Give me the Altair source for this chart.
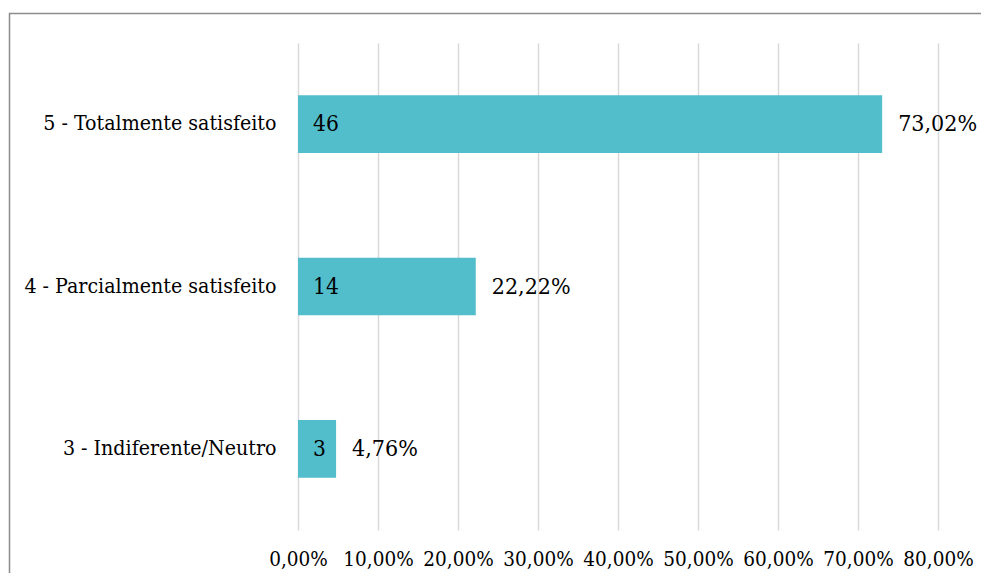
import altair as alt
import pandas as pd

categories = ["5 - Totalmente satisfeito", "4 - Parcialmente satisfeito", "3 - Indiferente/Neutro"]
counts = [46, 14, 3]
percents = [0.7302, 0.2222, 0.0476]
x_ticks = [0, 0.1, 0.2, 0.3, 0.4, 0.5, 0.6, 0.7, 0.8]

df = pd.DataFrame({"cat": categories, "n": counts, "pct": percents})

FONT = "DejaVu Serif Condensed"
PL, PT = 290, 35
W, H = 640, 487

base = alt.Chart(df).transform_calculate(
    lab="replace(format(datum.pct, '.2%'), '.', ',')"
)

y_enc = alt.Y("cat:N", sort=None, title=None,
              scale=alt.Scale(paddingInner=0.645, paddingOuter=0.3225),
              axis=alt.Axis(labelFont=FONT, labelFontSize=21.2, labelColor="#000000",
                            ticks=False, domain=False, labelPadding=22, grid=False,
                            labelLimit=0))

bars = base.mark_bar(color="#52BDCB").encode(
    x=alt.X("pct:Q", title=None,
            scale=alt.Scale(domain=[0, 0.8], nice=False),
            axis=alt.Axis(values=x_ticks, labelExpr="replace(format(datum.value, '.2%'), '.', ',')",
                          labelFont=FONT, labelFontSize=20.5, labelColor="#000000",
                          ticks=False, domain=False, labelPadding=19, labelOverlap=False,
                          labelLimit=0, labelFlush=False,
                          grid=True, gridColor="#d9d9d9", gridWidth=1.5)),
    y=y_enc,
)

count_text = base.mark_text(align="left", baseline="middle", dx=15, font=FONT,
                            fontSize=22.5, color="#000000").encode(
    x=alt.datum(0),
    y=alt.Y("cat:N", sort=None),
    text="n:Q",
)

pct_text = base.mark_text(align="left", baseline="middle", dx=16, font=FONT,
                          fontSize=23, color="#000000").encode(
    x="pct:Q",
    y=alt.Y("cat:N", sort=None),
    text="lab:N",
)

frame = alt.Chart(alt.Data(values=[{"a": 1}])).mark_rect(
    fill=None, stroke="#8c8c8c", strokeWidth=1.5, clip=False
).encode(
    x=alt.value(-288.5), x2=alt.value(720),
    y=alt.value(-29.5), y2=alt.value(620),
)

chart = alt.layer(bars, count_text, pct_text, frame).properties(
    width=W, height=H,
    background="white",
    autosize=alt.AutoSizeParams(type="none"),
    padding={"left": PL, "top": PT, "right": 43, "bottom": 43},
).configure_view(stroke=None)

chart.save("out.html", embed_options={"renderer": "svg", "actions": False})
